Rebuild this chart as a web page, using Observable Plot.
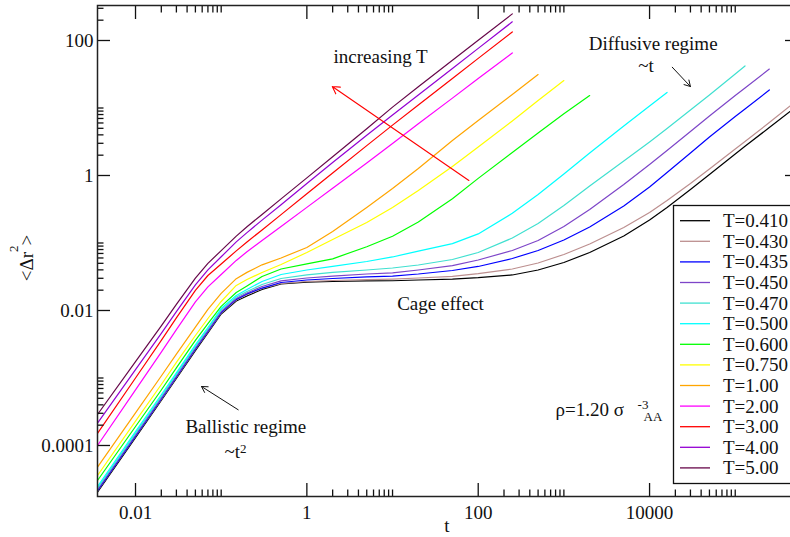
<!DOCTYPE html>
<html>
<head>
<meta charset="utf-8">
<script src="https://cdn.jsdelivr.net/npm/d3@7"></script>
<script src="https://cdn.jsdelivr.net/npm/@observablehq/plot@0.6"></script>
<style>
html, body { margin: 0; padding: 0; background: #fff; }
#chart { position: relative; width: 790px; height: 537px; overflow: hidden; }
#chart svg { max-width: none !important; width: 798px !important; height: 537px !important; display: block; }
#chart svg, #chart svg text { font-family: "Liberation Serif", "DejaVu Serif", serif !important; }
</style>
</head>
<body>
<div id="chart"></div>
<script>
// ---- data ----
const times = [0.0036, 0.01, 0.02, 0.03, 0.05, 0.07, 0.1, 0.15, 0.2, 0.3, 0.5, 1, 2, 5, 10, 20, 50, 100, 250, 500, 1000, 2000, 5000, 10000, 16000, 30000, 50000, 100000, 130000, 250000, 500000];

const msd_T0410 = [2.03e-5, 1.31e-4, 4.64e-4, 9.84e-4, 2.55e-3, 4.66e-3, 8.87e-3, 1.38e-2, 1.64e-2, 2.05e-2, 2.47e-2, 2.64e-2, 2.69e-2, 2.74e-2, 2.76e-2, 2.83e-2, 2.91e-2, 3.06e-2, 0.0336, 0.0398, 0.0514, 0.0723, 0.127, 0.219, 0.336, 0.621, 1.035, 2.08, 2.71, 5.14, 10.2];
const msd_T0430 = [2.13e-5, 1.36e-4, 4.80e-4, 1.02e-3, 2.64e-3, 4.80e-3, 9.18e-3, 1.43e-2, 1.73e-2, 2.12e-2, 2.51e-2, 2.69e-2, 2.78e-2, 2.86e-2, 2.92e-2, 3.03e-2, 3.21e-2, 0.0351, 0.0412, 0.0506, 0.0676, 0.0966, 0.170, 0.283, 0.426, 0.761, 1.25, 2.47, 3.19, 6.10, 12.3];
const msd_T0435 = [2.15e-5, 1.38e-4, 4.89e-4, 1.04e-3, 2.69e-3, 4.89e-3, 9.34e-3, 1.46e-2, 1.76e-2, 2.15e-2, 2.60e-2, 2.83e-2, 2.98e-2, 3.14e-2, 3.24e-2, 3.47e-2, 3.91e-2, 0.0449, 0.0589, 0.0774, 0.111, 0.173, 0.353, 0.676, 1.11, 2.15, 3.72, 7.48, 9.66, 18.5];
const msd_T0450 = [2.23e-5, 1.43e-4, 5.06e-4, 1.07e-3, 2.78e-3, 5.06e-3, 9.66e-3, 1.51e-2, 1.82e-2, 2.27e-2, 2.74e-2, 3.03e-2, 3.24e-2, 3.47e-2, 3.62e-2, 3.98e-2, 4.61e-2, 0.0560, 0.0774, 0.109, 0.176, 0.313, 0.736, 1.46, 2.35, 4.48, 7.61, 15.3, 19.8, 37.8];
const msd_T0470 = [2.33e-5, 1.51e-4, 5.32e-4, 1.13e-3, 2.93e-3, 5.32e-3, 1.02e-2, 1.58e-2, 1.91e-2, 2.43e-2, 2.98e-2, 3.36e-2, 3.66e-2, 3.98e-2, 4.26e-2, 4.72e-2, 5.70e-2, 0.0723, 0.1186, 0.1945, 0.360, 0.699, 1.64, 3.14, 4.97, 9.34, 15.6, 31.9, 41.9];
const msd_T0500 = [2.47e-5, 1.60e-4, 5.64e-4, 1.19e-3, 3.10e-3, 5.60e-3, 1.07e-2, 1.67e-2, 2.05e-2, 2.69e-2, 3.41e-2, 3.98e-2, 4.49e-2, 5.32e-2, 6.21e-2, 7.59e-2, 9.77e-2, 0.1364, 0.275, 0.523, 1.05, 2.15, 5.41, 10.7, 17.0];
const msd_T0600 = [3.03e-5, 1.91e-4, 6.64e-4, 1.41e-3, 3.60e-3, 6.41e-3, 1.15e-2, 1.85e-2, 2.31e-2, 3.19e-2, 4.12e-2, 4.90e-2, 5.83e-2, 8.81e-2, 0.126, 0.204, 0.452, 0.906, 2.19, 4.26, 8.22, 15.3];
const msd_T0750 = [3.59e-5, 2.29e-4, 8.01e-4, 1.70e-3, 4.26e-3, 7.61e-3, 1.36e-2, 2.35e-2, 2.88e-2, 3.66e-2, 4.80e-2, 7.23e-2, 0.1127, 0.201, 0.336, 0.600, 1.36, 2.64, 6.41, 12.9, 25.5];
const msd_T1 = [4.77e-5, 3.04e-4, 1.07e-3, 2.26e-3, 5.66e-3, 1.04e-2, 1.79e-2, 2.96e-2, 3.67e-2, 4.75e-2, 6.0e-2, 8.58e-2, 0.148, 0.336, 0.642, 1.27, 3.30, 6.53, 15.8, 31.3];
const msd_T2 = [1.0e-4, 6.67e-4, 2.41e-3, 5.2e-3, 1.34e-2, 2.24e-2, 3.41e-2, 5.52e-2, 7.41e-2, 0.1086, 0.1756, 0.337, 0.646, 1.53, 2.98, 5.83, 14.0, 27.3, 65.5];
const msd_T3 = [1.51e-4, 1.0e-3, 3.61e-3, 7.77e-3, 1.99e-2, 3.30e-2, 4.89e-2, 7.64e-2, 0.1035, 0.156, 0.263, 0.536, 1.09, 2.77, 5.58, 11.1, 27.4, 54.3, 134];
const msd_T4 = [2.14e-4, 1.33e-3, 4.59e-3, 9.63e-3, 2.39e-2, 3.99e-2, 6.25e-2, 0.104, 0.1426, 0.218, 0.369, 0.759, 1.56, 3.94, 7.85, 15.6, 38.5, 76.4, 189];
const msd_T5 = [2.88e-4, 1.75e-3, 5.93e-3, 1.23e-2, 3.02e-2, 5.0e-2, 7.71e-2, 0.1265, 0.174, 0.265, 0.45, 0.921, 1.89, 4.93, 10.3, 20.7, 50.9, 100.7, 248];

const tempLabels = ["T=0.410", "T=0.430", "T=0.435", "T=0.450", "T=0.470", "T=0.500", "T=0.600", "T=0.750", "T=1.00", "T=2.00", "T=3.00", "T=4.00", "T=5.00"];
const tempSeries = [msd_T0410, msd_T0430, msd_T0435, msd_T0450, msd_T0470, msd_T0500, msd_T0600, msd_T0750, msd_T1, msd_T2, msd_T3, msd_T4, msd_T5];
const tempColors = ["#000000", "#bc8f8f", "#0000ff", "#7d45c8", "#40e0d0", "#00ffff", "#00ff00", "#ffff00", "#ffa500", "#ff00ff", "#ff0000", "#9400d3", "#67074a"];

const xMajor = [0.01, 1, 100, 10000];
const xTickLabels = ["0.01", "1", "100", "10000"];
const xMinor = [0.02, 0.03, 0.04, 0.05, 0.06, 0.07, 0.08, 0.09, 0.1,
                2, 3, 4, 5, 6, 7, 8, 9, 10,
                200, 300, 400, 500, 600, 700, 800, 900, 1000,
                20000, 30000, 40000, 50000, 60000, 70000, 80000, 90000, 100000];
const yMajor = [0.0001, 0.01, 1, 100];
const yTickLabels = ["0.0001", "0.01", "1", "100"];
const yMinor = [0.0002, 0.0003, 0.0004, 0.0005, 0.0006, 0.0007, 0.0008, 0.0009, 0.001,
                0.02, 0.03, 0.04, 0.05, 0.06, 0.07, 0.08, 0.09, 0.1,
                2, 3, 4, 5, 6, 7, 8, 9, 10,
                200, 300];

// ---- build table ----
const rows = [];
tempSeries.forEach((vals, k) => {
  vals.forEach((v, i) => rows.push({T: tempLabels[k], t: times[i], v}));
});

const FONT = "Liberation Serif, DejaVu Serif, serif";
const INK = "#111";

function note(t, v, s, opts = {}) {
  return Plot.text([{t, v, s}], {x: "t", y: "v", text: "s", fontSize: 19, fill: INK, lineAnchor: "bottom", textAnchor: "middle", ...opts});
}

// The original figure is cropped on the right: its right axis sits just past the 790px window.
const plot = Plot.plot({
  width: 798,
  height: 537,
  marginLeft: 97,
  marginRight: 1,
  marginTop: 5,
  marginBottom: 41,
  style: {fontFamily: FONT, fontSize: "19px", color: INK, background: "#fff", maxWidth: "none"},
  x: {type: "log", domain: [0.0036, 5.33e5]},
  y: {type: "log", domain: [1.755e-5, 330]},
  color: {domain: tempLabels, range: tempColors},
  marks: [
    Plot.line(rows, {x: "t", y: "v", z: "T", stroke: "T", strokeWidth: 1.2, clip: true}),
    Plot.axisX({anchor: "bottom", ticks: xMajor, tickSize: 0, tickPadding: 9, fontSize: 19, label: null,
                tickFormat: d => xTickLabels[xMajor.indexOf(d)]}),
    Plot.axisY({anchor: "left", ticks: yMajor, tickSize: 0, tickPadding: 4, fontSize: 19, label: null,
                tickFormat: d => yTickLabels[yMajor.indexOf(d)]}),
    Plot.axisX({anchor: "bottom", ticks: xMajor, tickSize: -13, fill: "none", label: null, stroke: INK, strokeWidth: 1.3}),
    Plot.axisX({anchor: "bottom", ticks: xMinor, tickSize: -6.5, fill: "none", label: null, stroke: INK, strokeWidth: 1.3}),
    Plot.axisX({anchor: "top", ticks: xMajor, tickSize: -13, fill: "none", label: null, stroke: INK, strokeWidth: 1.3}),
    Plot.axisX({anchor: "top", ticks: xMinor, tickSize: -6.5, fill: "none", label: null, stroke: INK, strokeWidth: 1.3}),
    Plot.axisY({anchor: "left", ticks: yMajor, tickSize: -13, fill: "none", label: null, stroke: INK, strokeWidth: 1.3}),
    Plot.axisY({anchor: "left", ticks: yMinor, tickSize: -6.5, fill: "none", label: null, stroke: INK, strokeWidth: 1.3}),
    Plot.axisY({anchor: "right", ticks: yMajor, tickSize: -13, fill: "none", label: null, stroke: INK, strokeWidth: 1.3}),
    Plot.axisY({anchor: "right", ticks: yMinor, tickSize: -6.5, fill: "none", label: null, stroke: INK, strokeWidth: 1.3}),
    Plot.frame({stroke: "#222", strokeWidth: 1.5}),
    note(2.05, 47.2, "increasing T", {textAnchor: "start"}),
    Plot.arrow([{x1: 77.8, y1: 0.843, x2: 1.98, y2: 20.8}], {x1: "x1", y1: "y1", x2: "x2", y2: "y2", stroke: "#ff0000", strokeWidth: 1.1, headLength: 11}),
    note(1.10e4, 71.1, "Diffusive regime"),
    note(9100, 33.6, "~t"),
    Plot.arrow([{x1: 1.84e4, y1: 40.2, x2: 3.0e4, y2: 20.8}], {x1: "x1", y1: "y1", x2: "x2", y2: "y2", stroke: INK, strokeWidth: 1, headLength: 10}),
    note(36.3, 0.01, "Cage effect"),
    note(0.194, 1.51e-4, "Ballistic regime"),
    note(0.1346, 6.42e-5, "~t"),
    note(0.166, 7.87e-5, "2", {fontSize: 13, textAnchor: "start"}),
    Plot.arrow([{x1: 0.158, y1: 3.38e-4, x2: 0.0589, y2: 7.48e-4}], {x1: "x1", y1: "y1", x2: "x2", y2: "y2", stroke: INK, strokeWidth: 1, headLength: 10}),
    note(800, 2.78e-4, "ρ=1.20 σ", {textAnchor: "start"}),
    note(7245, 3.53e-4, "-3", {fontSize: 13, textAnchor: "start"}),
    note(8510, 2.27e-4, "AA", {fontSize: 13, textAnchor: "start"})
  ]
});

document.getElementById("chart").appendChild(plot);

// ---- axis titles and legend (layout elements) ----
const svg = d3.select(plot);
const ylab = svg.append("text")
  .attr("transform", "translate(33,258) rotate(-90)")
  .attr("text-anchor", "middle")
  .attr("font-family", FONT).attr("font-size", 19).attr("fill", INK);
ylab.append("tspan").text("<Δr");
ylab.append("tspan").attr("dy", -15).attr("font-size", 13).text("2");
ylab.append("tspan").attr("dy", 15).text(">");

svg.append("text")
  .attr("x", 447).attr("y", 532)
  .attr("text-anchor", "middle")
  .attr("font-family", FONT).attr("font-size", 19).attr("fill", INK)
  .text("t");

const lg = svg.append("g");
lg.append("rect")
  .attr("x", 673.5).attr("y", 205.5).attr("width", 140).attr("height", 278)
  .attr("fill", "#fff").attr("stroke", INK).attr("stroke-width", 1.3);
tempLabels.forEach((lab, i) => {
  const yy = 220.7 + i * 20.6;
  lg.append("line").attr("x1", 680).attr("x2", 710).attr("y1", yy).attr("y2", yy)
    .attr("stroke", tempColors[i]).attr("stroke-width", 1.3);
  lg.append("text").attr("x", 723).attr("y", yy + 6.5)
    .attr("text-anchor", "start")
    .attr("font-family", FONT).attr("font-size", 19).attr("fill", INK)
    .text(lab);
});
</script>
</body>
</html>
